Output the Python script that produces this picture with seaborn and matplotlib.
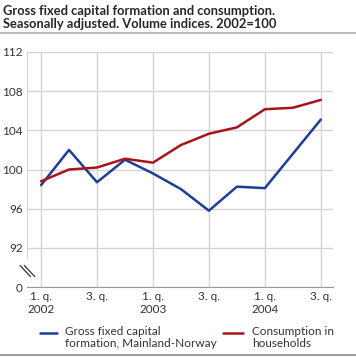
import pandas as pd
import numpy as np
import matplotlib.pyplot as plt
import seaborn as sns

# quarters 1.q 2002 .. 3.q 2004
quarters = ['2002Q1', '2002Q2', '2002Q3', '2002Q4', '2003Q1', '2003Q2',
            '2003Q3', '2003Q4', '2004Q1', '2004Q2', '2004Q3']
gross_fixed = [98.4, 102.0, 98.7, 101.0, 99.6, 98.0, 95.8, 98.25, 98.1, 101.6, 105.1]
consumption = [98.8, 100.0, 100.2, 101.1, 100.7, 102.5, 103.65, 104.3, 106.15, 106.3, 107.1]
series_names = ['Gross fixed capital\nformation, Mainland-Norway', 'Consumption in\nhouseholds']
colors = ['#1f3d96', '#a8141c']
x_labels = ['1. q.\n2002', '3. q.', '1. q.\n2003', '3. q.', '1. q.\n2004', '3. q.']
y_ticks = [88, 92, 96, 100, 104, 108, 112]
y_labels = ['0', '92', '96', '100', '104', '108', '112']

df = pd.DataFrame({
    'idx': list(range(len(quarters))) * 2,
    'value': gross_fixed + consumption,
    'series': [series_names[0]] * len(quarters) + [series_names[1]] * len(quarters),
})

sns.set_style('white')
plt.rcParams['font.family'] = ['Lato', 'DejaVu Sans']

fig = plt.figure(figsize=(3.56, 3.58), dpi=100)
ax = fig.add_axes([0.076, 0.198, 0.859, 0.657])

sns.lineplot(data=df, x='idx', y='value', hue='series', ax=ax,
             palette=colors, linewidth=1.8, legend=False)

ax.set_xlim(-0.5, 10.43)
ax.set_ylim(88, 112)
ax.set_yticks(y_ticks)
ax.set_yticklabels(y_labels)
ax.set_xticks(range(0, len(quarters), 2))
ax.set_xticklabels(x_labels, ha='center')
ax.set_xticks(range(1, len(quarters), 2), minor=True)
ax.set_xlabel('')
ax.set_ylabel('')

ax.grid(True, which='major', color='#d4d4d4', linewidth=1)
ax.set_axisbelow(True)
ax.tick_params(axis='both', which='major', labelsize=8.5, length=0, colors='#333333', pad=3)
ax.tick_params(axis='x', which='minor', direction='in', length=4, color='#bbbbbb')
for side in ['top', 'right']:
    ax.spines[side].set_visible(False)
ax.spines['left'].set_color('#d4d4d4')
ax.spines['left'].set_bounds(91, 112)
ax.spines['bottom'].set_color('#999999')

# axis break marks
for dx in [0, 0.014]:
    ax.plot([-0.023 + dx, 0.011 + dx], [0.092, 0.045], transform=ax.transAxes,
            color='#333333', linewidth=0.9, clip_on=False)

fig.text(0.008, 0.985, 'Gross fixed capital formation and consumption.\nSeasonally adjusted. Volume indices. 2002=100',
         fontsize=9.3, fontweight='bold', va='top', ha='left', linespacing=1.05)
fig.add_artist(plt.Line2D([0, 1], [0.907, 0.907], color='#bbbbbb', linewidth=1.5))
fig.add_artist(plt.Line2D([0, 1], [0.007, 0.007], color='#888888', linewidth=1.2))

# legend drawn by hand so the key sits on the first text line
W, H = 356, 358
for (x0, x1, tx), name, c in zip([(40, 57, 65), (223, 243, 252)], series_names, colors):
    fig.add_artist(plt.Line2D([x0 / W, x1 / W], [1 - 333 / H, 1 - 333 / H], color=c, linewidth=1.8))
    fig.text(tx / W, 1 - 326 / H, name, fontsize=8.5, va='top', ha='left',
             color='#333333', linespacing=1.15)

plt.savefig('out.png', dpi=100)
